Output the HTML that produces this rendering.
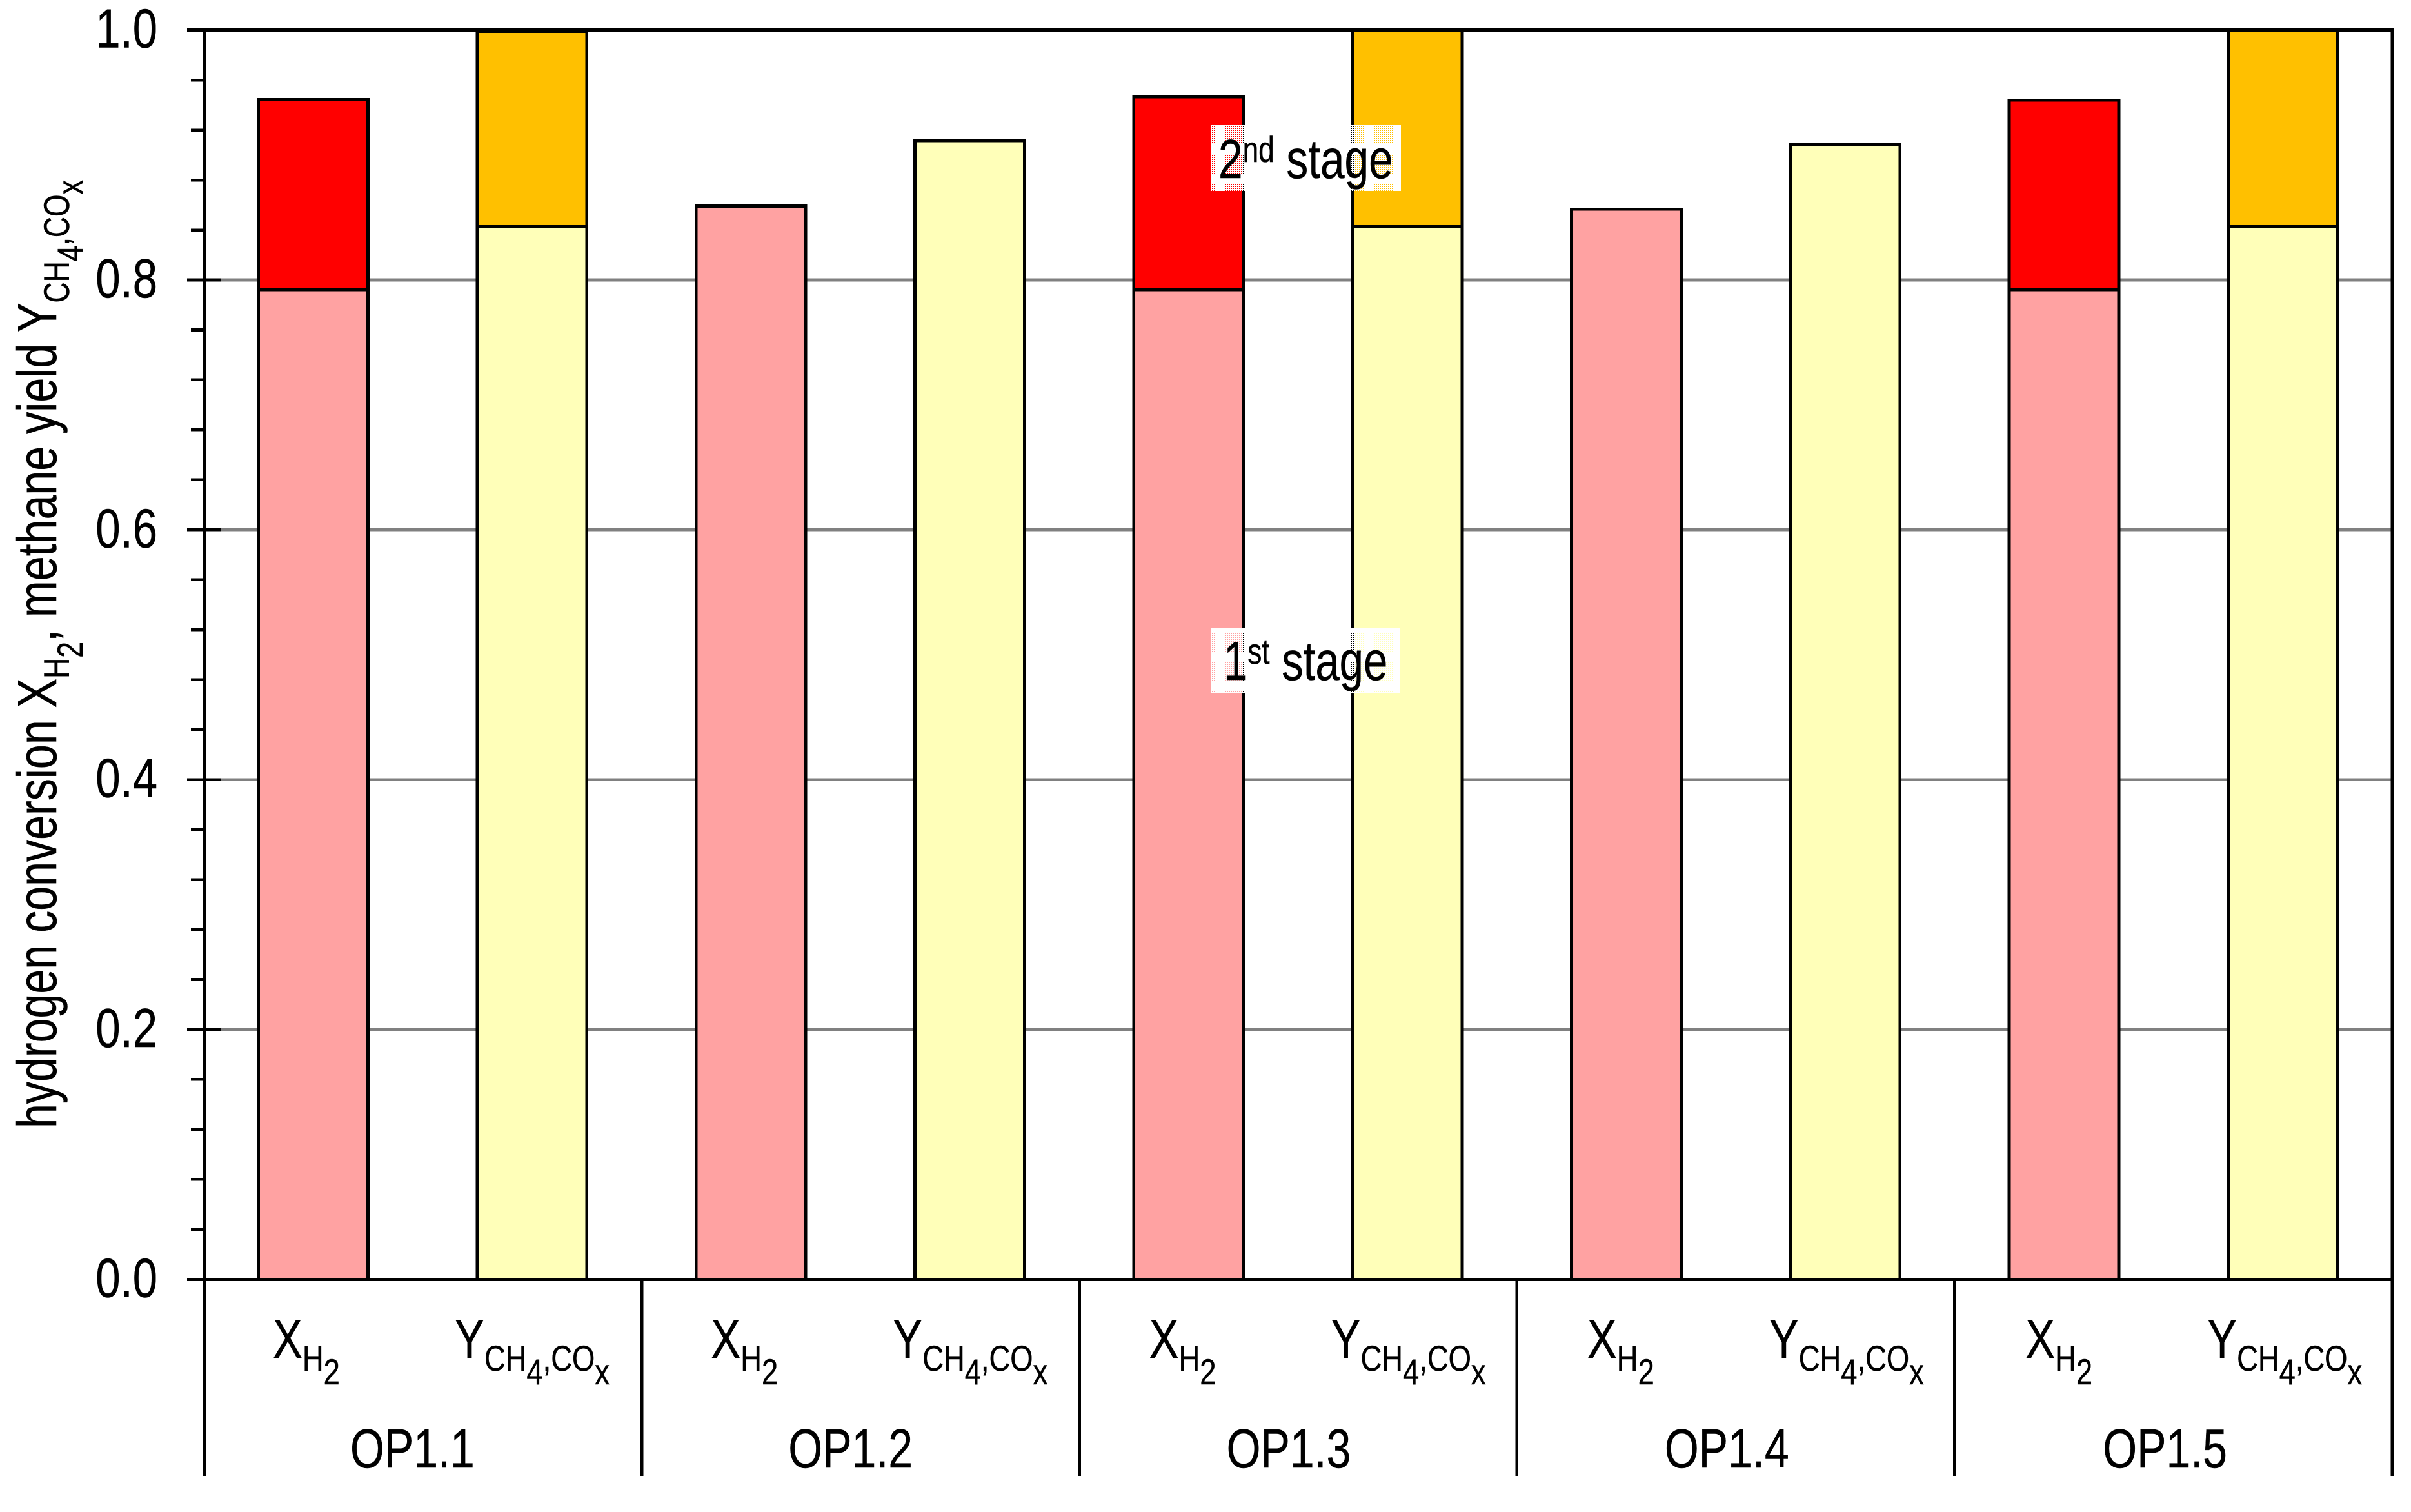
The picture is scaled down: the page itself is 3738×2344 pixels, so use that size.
<!DOCTYPE html>
<html lang="en">
<head>
<meta charset="utf-8">
<title>Hydrogen conversion and methane yield</title>
<style>
  html, body { margin: 0; padding: 0; background: #fff; }
  svg { display: block; font-family: "Liberation Sans", Arial, sans-serif; fill: #000; }
  .crisp { shape-rendering: crispEdges; }
  text { stroke: #000; stroke-width: 0.5px; }
</style>
</head>
<body>
<svg id="chart" xmlns="http://www.w3.org/2000/svg" width="3738" height="2344" viewBox="0 0 3738 2344">
  <defs>
    <pattern id="dot-screen" width="3" height="3" patternUnits="userSpaceOnUse">
      <path d="M0 0H3V3H0Z M1 1V2H2V1Z" fill="#fff" fill-rule="evenodd"></path>
    </pattern>
  </defs>
  <rect width="3738" height="2344" fill="#fff"></rect>
  <g id="grid-layer" class="crisp"></g>
  <g id="bar-layer" class="crisp"></g>
  <g id="axis-layer" class="crisp"></g>
  <g id="label-layer"></g>

  <text transform="translate(87,1749) rotate(-90) scale(0.802,1)" font-size="85">hydrogen conversion X<tspan font-size="55.5" dy="20">H</tspan><tspan font-size="55.5" dy="21">2</tspan><tspan dy="-41">, methane yield Y</tspan><tspan font-size="55.5" dy="20">CH</tspan><tspan font-size="55.5" dy="21">4</tspan><tspan font-size="55.5" dy="-21">,CO</tspan><tspan font-size="55.5" dy="21">x</tspan></text>

  <g>
    <rect x="1877" y="194" width="295" height="102" fill="url(#dot-screen)"></rect>
    <text transform="translate(1889,276) scale(0.795,1)" font-size="85">2<tspan font-size="55.5" dy="-25">nd</tspan><tspan dy="25"> stage</tspan></text>
  </g>
  <g>
    <rect x="1877" y="974" width="294" height="100" fill="url(#dot-screen)"></rect>
    <text transform="translate(1897,1054) scale(0.79,1)" font-size="85">1<tspan font-size="55.5" dy="-25">st</tspan><tspan dy="25"> stage</tspan></text>
  </g>
</svg>

<script>
const groupLabels = ['OP1.1', 'OP1.2', 'OP1.3', 'OP1.4', 'OP1.5'];
const xFirstStage = [0.7921, 0.8592, 0.7921, 0.8567, 0.7921];
const xSecondStageTop = [0.9444, null, 0.9465, null, 0.9439];
const yFirstStage = [0.8427, 0.9114, 0.8427, 0.9083, 0.8427];
const ySecondStageTop = [0.9989, null, 1.0, null, 0.9996];
const majorTicks = ['0.0', '0.2', '0.4', '0.6', '0.8', '1.0'];
const minorTicks = [0.04, 0.08, 0.12, 0.16, 0.24, 0.28, 0.32, 0.36, 0.44, 0.48, 0.52, 0.56, 0.64, 0.68, 0.72, 0.76, 0.84, 0.88, 0.92, 0.96];

const SVG_NS = 'http://www.w3.org/2000/svg';
const gridLayer = document.getElementById('grid-layer');
const barLayer = document.getElementById('bar-layer');
const axisLayer = document.getElementById('axis-layer');
const labelLayer = document.getElementById('label-layer');

const plotLeft = 316.7;
const plotRight = 3708.7;
const plotTop = 46.7;
const plotBottom = 1983.3;
const axisFoot = 2288;
const barWidth = 170;
const textSqueeze = 0.81;

function yScale(value) {
  return plotBottom - value * (plotBottom - plotTop);
}
function barCenter(slot) {
  return 485.5 + slot * 339.33;
}
function groupEdge(group) {
  return plotLeft + group * (plotRight - plotLeft) / groupLabels.length;
}

function makeLine(parent, x1, y1, x2, y2, color, width) {
  const line = document.createElementNS(SVG_NS, 'line');
  line.setAttribute('x1', x1);
  line.setAttribute('y1', y1);
  line.setAttribute('x2', x2);
  line.setAttribute('y2', y2);
  line.setAttribute('stroke', color);
  line.setAttribute('stroke-width', width);
  parent.appendChild(line);
  return line;
}

function makeBarSegment(slot, from, to, fill) {
  const rect = document.createElementNS(SVG_NS, 'rect');
  rect.setAttribute('x', barCenter(slot) - barWidth / 2);
  rect.setAttribute('y', yScale(to));
  rect.setAttribute('width', barWidth);
  rect.setAttribute('height', yScale(from) - yScale(to));
  rect.setAttribute('fill', fill);
  rect.setAttribute('stroke', '#000');
  rect.setAttribute('stroke-width', 4.8);
  barLayer.appendChild(rect);
  return rect;
}

function makeText(x, y, anchor, content, size, squeeze) {
  const text = document.createElementNS(SVG_NS, 'text');
  text.setAttribute('transform', 'translate(' + x + ',' + y + ') scale(' + squeeze + ',1)');
  text.setAttribute('text-anchor', anchor);
  text.setAttribute('font-size', size);
  text.textContent = content;
  labelLayer.appendChild(text);
  return text;
}

function addRun(text, content, dy) {
  const run = document.createElementNS(SVG_NS, 'tspan');
  run.setAttribute('font-size', 56);
  run.setAttribute('dy', dy);
  run.textContent = content;
  text.appendChild(run);
}

/* horizontal gridlines */
majorTicks.forEach(function (label) {
  const value = parseFloat(label);
  if (value === 0 || value === 1) return;
  const grid = makeLine(gridLayer, 342, yScale(value), plotRight, yScale(value), '#808080', 4.8);
  
  
});

/* bars */
groupLabels.forEach(function (group, g) {
  const xBase = makeBarSegment(g * 2, 0, xFirstStage[g], '#ffa2a2');
  
  
  if (xSecondStageTop[g] !== null) {
    const xTop = makeBarSegment(g * 2, xFirstStage[g], xSecondStageTop[g], '#ff0000');
    
    
  }
  const yBase = makeBarSegment(g * 2 + 1, 0, yFirstStage[g], '#ffffb9');
  
  
  if (ySecondStageTop[g] !== null) {
    const yTop = makeBarSegment(g * 2 + 1, yFirstStage[g], ySecondStageTop[g], '#ffc000');
    
    
  }
});

/* axes frame */
const topAxis = makeLine(axisLayer, 290, plotTop, plotRight + 2.4, plotTop, '#000', 5);


const bottomAxis = makeLine(axisLayer, 290, plotBottom, plotRight + 2.4, plotBottom, '#000', 5);


const leftAxis = makeLine(axisLayer, plotLeft, plotTop, plotLeft, axisFoot, '#000', 4.8);


const rightAxis = makeLine(axisLayer, plotRight, plotTop, plotRight, axisFoot, '#000', 4.8);



/* group separators */
groupLabels.slice(1).forEach(function (group, g) {
  const separator = makeLine(axisLayer, groupEdge(g + 1), plotBottom, groupEdge(g + 1), axisFoot, '#000', 4.6);
  
  
});

/* ticks and tick labels */
majorTicks.forEach(function (label) {
  const value = parseFloat(label);
  const tick = makeLine(axisLayer, 290, yScale(value), 342, yScale(value), '#000', 4.8);
  
  
  const tickLabel = makeText(244, yScale(value) + 27, 'end', label, 85, textSqueeze);
  
  
});
minorTicks.forEach(function (value) {
  const tick = makeLine(axisLayer, 296, yScale(value), plotLeft, yScale(value), '#000', 4.6);
  
  
});

/* category and group labels */
groupLabels.forEach(function (group, g) {
  const labelStep = 679.3;
  const xLabel = makeText(423 + g * labelStep, 2105, 'start', 'X', 85, textSqueeze);
  addRun(xLabel, 'H', 20);
  addRun(xLabel, '2', 21);
  
  

  const yLabel = makeText(705 + g * labelStep, 2105, 'start', 'Y', 85, textSqueeze);
  addRun(yLabel, 'CH', 20);
  addRun(yLabel, '4', 21);
  addRun(yLabel, ',CO', -21);
  addRun(yLabel, 'x', 21);
  
  

  const groupLabel = makeText(543 + g * labelStep, 2275, 'start', group, 85, 0.8);
  
  
});
</script>
</body>
</html>
